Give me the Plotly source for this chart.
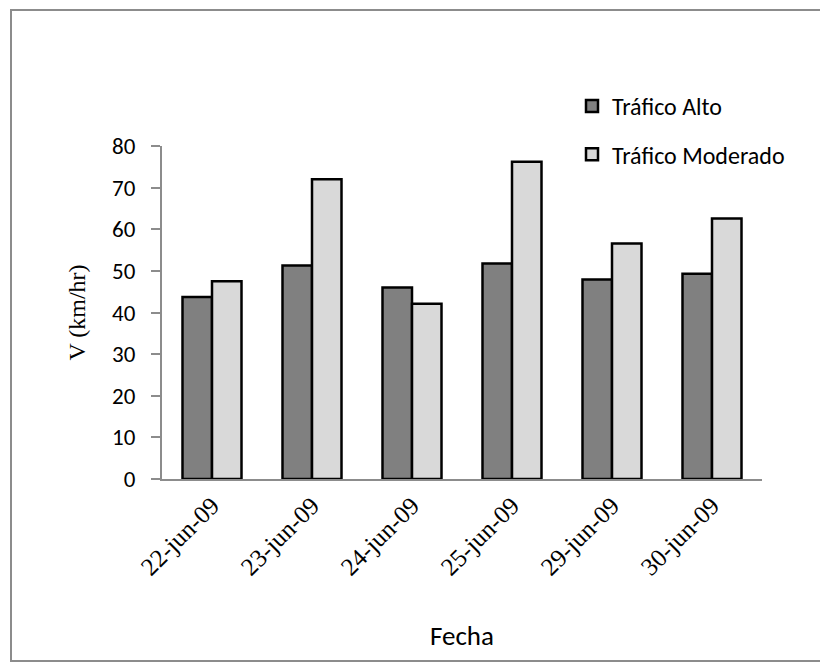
import plotly.graph_objects as go

# Velocidad media por fecha y nivel de tráfico
fechas = ["22-jun-09", "23-jun-09", "24-jun-09", "25-jun-09", "29-jun-09", "30-jun-09"]
trafico_alto = [43.7, 51.3, 46.0, 51.8, 47.9, 49.3]
trafico_moderado = [47.5, 72.0, 42.1, 76.2, 56.6, 62.6]
y_ticks = [0, 10, 20, 30, 40, 50, 60, 70, 80]

W, H = 820, 662
L, R, T, B = 162, 58, 146, 183
pw, ph = W - L - R, H - T - B

def px_to_paper_x(px):
    return (px - L) / pw

def px_to_paper_y(py):
    return (H - B - py) / ph

sans = "Carlito, Lato, Open Sans, sans-serif"
serif = "Liberation Serif, DejaVu Serif, serif"

fig = go.Figure()
fig.add_trace(go.Bar(
    x=fechas, y=trafico_alto, name="Tráfico Alto",
    marker=dict(color="#808080", line=dict(color="#000000", width=2.5)),
    legendgroup="a",
))
fig.add_trace(go.Bar(
    x=fechas, y=trafico_moderado, name="Tráfico Moderado",
    marker=dict(color="#d9d9d9", line=dict(color="#000000", width=2.5)),
    legendgroup="b",
))

fig.update_layout(
    width=W, height=H,
    margin=dict(l=L, r=R, t=T, b=B, autoexpand=False),
    paper_bgcolor="white", plot_bgcolor="white",
    barmode="group", bargap=0.41, bargroupgap=0,
    font=dict(family=sans, color="#000000", size=20),
    legend=dict(
        x=px_to_paper_x(572), y=px_to_paper_y(84),
        xanchor="left", yanchor="top",
        font=dict(family=sans, size=24),
        tracegroupgap=14, itemwidth=30,
        bgcolor="rgba(0,0,0,0)",
    ),
    xaxis=dict(
        tickangle=-45,
        tickfont=dict(family=serif, size=25),
        showline=True, linecolor="#8c8c8c", linewidth=2,
        ticks="", showgrid=False, automargin=False,
        title=dict(text="Fecha", font=dict(family=sans, size=27), standoff=46),
    ),
    yaxis=dict(
        range=[0, 80], tickvals=y_ticks,
        tickfont=dict(family=sans, size=23),
        ticklabelstandoff=11,
        showline=True, linecolor="#8c8c8c", linewidth=2,
        ticks="outside", ticklen=9, tickcolor="#8c8c8c", tickwidth=2,
        showgrid=False, zeroline=False, automargin=False,
        title=dict(text="V (km/hr)", font=dict(family=serif, size=24), standoff=20),
    ),
    shapes=[dict(
        type="rect", xref="paper", yref="paper",
        x0=px_to_paper_x(11), x1=px_to_paper_x(823),
        y0=px_to_paper_y(661), y1=px_to_paper_y(10),
        line=dict(color="#8c8c8c", width=2), fillcolor="rgba(0,0,0,0)",
        layer="below",
    )],
)

fig.write_html("out.html")
